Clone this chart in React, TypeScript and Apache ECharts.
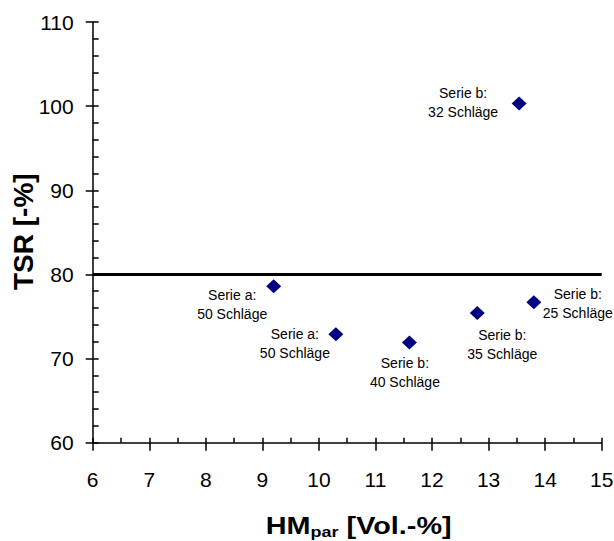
import React, { useEffect, useRef } from "react";
import * as echarts from "echarts";

// ---- data ----
const xValues = [9.2, 10.3, 11.6, 12.8, 13.8, 13.54];
const yValues = [78.6, 72.9, 71.9, 75.4, 76.7, 100.3];
const seriesNames = ["Serie a:", "Serie a:", "Serie b:", "Serie b:", "Serie b:", "Serie b:"];
const strokes = [50, 50, 40, 35, 25, 32];
const thresholdValue = 80;
const xRange = [6, 15];
const yRange = [60, 110];
const xTitleMain = "HM";
const xTitleSub = "par";
const xTitleRest = " [Vol.-%]";
const yTitle = "TSR [-%]";

// ---- layout (label placement relative to each point) ----
const labelOffsets = [
  [-41.5, 18],
  [-41, 9.5],
  [-4.5, 30],
  [25, 31],
  [44, 1.5],
  [-56, -1],
];

const FONT = "'Liberation Sans', Arial, Helvetica, sans-serif";

export default function App() {
  const ref = useRef<HTMLDivElement>(null);

  useEffect(() => {
    if (!ref.current) return;
    const chart = echarts.init(ref.current, undefined, { renderer: "svg" });
    const axisLineStyle = { color: "#000", width: 1.5 };

    const points = xValues.map((x, i) => ({
      value: [x, yValues[i]],
      label: { offset: labelOffsets[i] },
    }));

    chart.setOption({
      animation: false,
      backgroundColor: "#fff",
      grid: {
        left: 92.7,
        right: 12.3,
        top: 22,
        bottom: 98.3,
        containLabel: false,
        outerBoundsMode: "none",
      },
      graphic: [
        {
          type: "text",
          x: 358.7,
          y: 526,
          scaleX: 1.2,
          scaleY: 1,
          silent: true,
          style: {
            text: `{a|${xTitleMain}}{b|${xTitleSub}}{a|${xTitleRest}}`,
            align: "center",
            verticalAlign: "middle",
            fill: "#000",
            rich: {
              a: { fontSize: 24, fontWeight: "bold", fontFamily: FONT, fill: "#000", lineHeight: 28 },
              b: { fontSize: 15, fontWeight: "bold", fontFamily: FONT, fill: "#000", lineHeight: 16, verticalAlign: "bottom" },
            },
          },
        },
        {
          type: "text",
          x: 23.5,
          y: 231.7,
          rotation: Math.PI / 2,
          silent: true,
          style: {
            text: yTitle,
            align: "center",
            verticalAlign: "middle",
            fill: "#000",
            fontSize: 28,
            fontWeight: "bold",
            fontFamily: FONT,
          },
        },
      ],
      xAxis: [
        {
          type: "value",
          min: xRange[0],
          max: xRange[1],
          interval: 1,
          position: "bottom",
          splitLine: { show: false },
          axisLine: { show: true, onZero: false, lineStyle: axisLineStyle },
          axisTick: { show: true, inside: false, length: 8, lineStyle: axisLineStyle },
          axisLabel: { fontSize: 21, color: "#000", margin: 26, fontFamily: FONT },
        },
        {
          type: "value",
          min: xRange[0],
          max: xRange[1],
          interval: 0.5,
          position: "bottom",
          splitLine: { show: false },
          axisLine: { show: false },
          axisTick: { show: true, inside: true, length: 5, lineStyle: axisLineStyle },
          axisLabel: { show: false },
        },
      ],
      yAxis: [
        {
          type: "value",
          min: yRange[0],
          max: yRange[1],
          interval: 10,
          position: "left",
          splitLine: { show: false },
          axisLine: { show: true, onZero: false, lineStyle: axisLineStyle },
          axisTick: { show: true, inside: false, length: 7, lineStyle: axisLineStyle },
          axisLabel: { fontSize: 21, color: "#000", margin: 19, fontFamily: FONT },
        },
        {
          type: "value",
          min: yRange[0],
          max: yRange[1],
          interval: 2,
          position: "left",
          splitLine: { show: false },
          axisLine: { show: false },
          axisTick: { show: true, inside: true, length: 6, lineStyle: axisLineStyle },
          axisLabel: { show: false },
        },
      ],
      series: [
        {
          type: "line",
          xAxisIndex: 0,
          yAxisIndex: 0,
          data: [
            [xRange[0], thresholdValue],
            [xRange[1], thresholdValue],
          ],
          symbol: "none",
          lineStyle: { color: "#000", width: 3 },
          silent: true,
          z: 1,
        },
        {
          type: "scatter",
          xAxisIndex: 0,
          yAxisIndex: 0,
          symbol: "diamond",
          symbolSize: [15, 14],
          itemStyle: { color: "#000080", opacity: 1 },
          data: points,
          z: 3,
          label: {
            show: true,
            position: "inside",
            color: "#000",
            fontSize: 14,
            lineHeight: 19,
            align: "center",
            verticalAlign: "middle",
            fontFamily: FONT,
            formatter: (p: any) => `${seriesNames[p.dataIndex]}\n${strokes[p.dataIndex]} Schläge`,
          },
        },
      ],
    });

    return () => chart.dispose();
  }, []);

  return (
    <div
      ref={ref}
      style={{ position: "fixed", left: 0, top: 0, width: 614, height: 541, background: "#fff" }}
    />
  );
}
